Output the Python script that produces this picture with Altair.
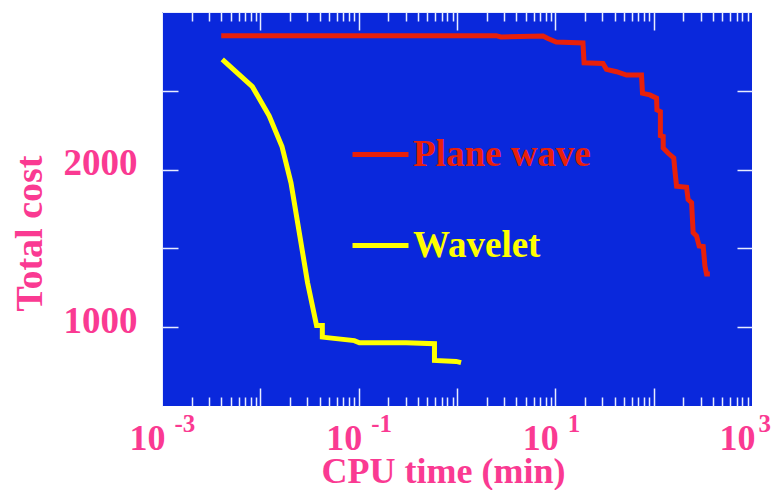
import altair as alt
import pandas as pd

# Plane wave series (CPU time in min, total cost)
pw_time = [0.004, 2.5, 2.8, 7.5, 8.4, 10.2, 19.1, 19.6, 30.5, 33.1, 41.9, 52.9, 75.2, 77.0,
           91.4, 107, 108, 117, 117, 125, 125, 140, 160, 164, 171, 216, 224, 243, 252,
           273, 290, 319, 332, 345, 373]
pw_cost = [2850, 2850, 2842, 2847, 2832, 2810, 2804, 2678, 2674, 2636, 2621, 2600, 2600, 2484,
           2474, 2453, 2379, 2368, 2215, 2210, 2137, 2105, 2074, 2000, 1894, 1888, 1810, 1790, 1600,
           1579, 1515, 1512, 1389, 1337, 1337]

# Wavelet series
wl_time = [0.0041, 0.0083, 0.0123, 0.0166, 0.0205, 0.0249, 0.0302, 0.0373, 0.0427, 0.0427,
           0.0904, 0.1017, 0.303, 0.59, 0.59, 0.98, 1.1]
wl_cost = [2699, 2526, 2341, 2147, 1916, 1600, 1284, 1010, 1010, 937,
           915, 901, 901, 895, 789, 783, 775]

series_names = ["Plane wave", "Wavelet"]
series_colors = ["#e8200a", "#ffff00"]

decades = [0.001, 0.1, 10, 1000]
major_ticks = [0.01, 0.1, 1, 10, 100]
minor_ticks = [m * 10.0 ** k for k in range(-3, 3) for m in range(2, 10)]
y_labels = [1000, 2000]
y_ticks = [1000, 1500, 2000, 2500]

rows = []
for i, (t, c) in enumerate(zip(pw_time, pw_cost)):
    rows.append({"time": t, "cost": c, "series": series_names[0], "ord": i})
for i, (t, c) in enumerate(zip(wl_time, wl_cost)):
    rows.append({"time": t, "cost": c, "series": series_names[1], "ord": i})
df = pd.DataFrame(rows)

PINK = "#fa3a92"
FONT = "Liberation Serif"
TICK = "#e8ecff"
W, H = 590, 394

xs = alt.Scale(type="log", domain=[0.001, 1000], nice=False)
ys = alt.Scale(domain=[500, 3000], nice=False, zero=False)

base = alt.Chart(df)

main = base.mark_line(strokeWidth=5, strokeJoin="miter", clip=True).encode(
    x=alt.X("time:Q", scale=xs, axis=alt.Axis(
        orient="bottom", values=decades, labelExpr="'10'", ticks=False, domain=False,
        grid=False, labelAlign="right", labelOffset=3, labelBaseline="alphabetic",
        labelPadding=43, labelFont=FONT, labelFontSize=36, labelFontWeight="bold",
        labelColor=PINK, labelFlush=False, labelOverlap=False, labelBound=False,
        title="CPU time (min)", titleFont=FONT, titleFontSize=36, titleFontWeight="bold",
        titleColor=PINK, titleX=281, titleY=76, titleBaseline="alphabetic",
        titleAlign="center")),
    y=alt.Y("cost:Q", scale=ys, axis=alt.Axis(
        orient="left", values=y_labels, format="d", ticks=False, domain=False, grid=False,
        labelPadding=25, labelFont=FONT, labelFontSize=37, labelFontWeight="bold",
        labelColor=PINK, labelBaseline="alphabetic", labelOffset=5, labelFlush=False,
        title="Total cost", titleFont=FONT, titleFontSize=38, titleFontWeight="bold",
        titleColor=PINK, titleX=-121, titleY=221, titleBaseline="alphabetic",
        titleAlign="center")),
    color=alt.Color("series:N", scale=alt.Scale(domain=series_names, range=series_colors),
                    legend=alt.Legend(
                        orient="none", legendX=188, legendY=112, title=None,
                        symbolType="stroke", symbolSize=3136, symbolStrokeWidth=5,
                        labelFont=FONT, labelFontSize=37, labelFontWeight="bold",
                        labelColor={"expr": "datum.value == 'Plane wave' ? '#e8200a' : '#ffff00'"},
                        labelOffset=2, labelLimit=0, padding=0, rowPadding=42)),
    order="ord:Q",
)

def ghost(xaxis, yaxis):
    return base.mark_line(strokeOpacity=0).encode(
        x=alt.X("time:Q", scale=xs, axis=xaxis),
        y=alt.Y("cost:Q", scale=ys, axis=yaxis),
        detail="series:N",
    )

# exponent labels + inward ticks on the left edge
l2 = ghost(
    alt.Axis(orient="bottom", values=decades,
             labelExpr="'' + round(log(datum.value) / LN10)", ticks=False, domain=False,
             grid=False, labelAlign="left",
             labelOffset={"condition": {"test": "datum.value >= 1000", "value": 6}, "value": 12},
             labelBaseline="alphabetic",
             labelPadding=25, labelFont=FONT, labelFontSize=25, labelFontWeight="bold",
             labelColor=PINK, labelFlush=False, labelOverlap=False, labelBound=False,
             title=None),
    alt.Axis(orient="right", offset=-W, values=y_ticks, tickSize=16, tickWidth=1.5,
             tickColor=TICK, labels=False, domain=True, domainColor=TICK, domainWidth=1,
             grid=False, title=None),
)
# bottom edge minor inward ticks + right edge inward ticks
l3 = ghost(
    alt.Axis(orient="top", offset=-H, values=minor_ticks, tickSize=9, tickWidth=1.5,
             tickColor=TICK, labels=False, domain=False, grid=False, title=None),
    alt.Axis(orient="left", offset=-W, values=y_ticks, tickSize=15, tickWidth=1.5,
             tickColor=TICK, labels=False, domain=False, grid=False, title=None),
)
# bottom edge major inward ticks
l4 = ghost(
    alt.Axis(orient="top", offset=-H, values=major_ticks, tickSize=18, tickWidth=1.5,
             tickColor=TICK, labels=False, domain=False, grid=False, title=None),
    None,
)
# top edge minor inward ticks
l5 = ghost(
    alt.Axis(orient="bottom", offset=-H, values=minor_ticks, tickSize=9, tickWidth=1.5,
             tickColor=TICK, labels=False, domain=True, domainColor=TICK, domainWidth=1,
             grid=False, title=None),
    None,
)
# top edge major inward ticks
l6 = ghost(
    alt.Axis(orient="bottom", offset=-H, values=major_ticks, tickSize=18, tickWidth=1.5,
             tickColor=TICK, labels=False, domain=False, grid=False, title=None),
    None,
)

chart = alt.layer(l2, l3, l4, l5, l6, main).resolve_axis(
    x="independent", y="independent"
).properties(
    width=W, height=H,
    autosize=alt.AutoSizeParams(type="none"),
    padding={"left": 154, "top": 4, "right": 19, "bottom": 84},
    background="white",
).configure_view(fill="#0a28dc", stroke=None)

chart.save("out.html", embed_options={"renderer": "svg", "actions": False})
